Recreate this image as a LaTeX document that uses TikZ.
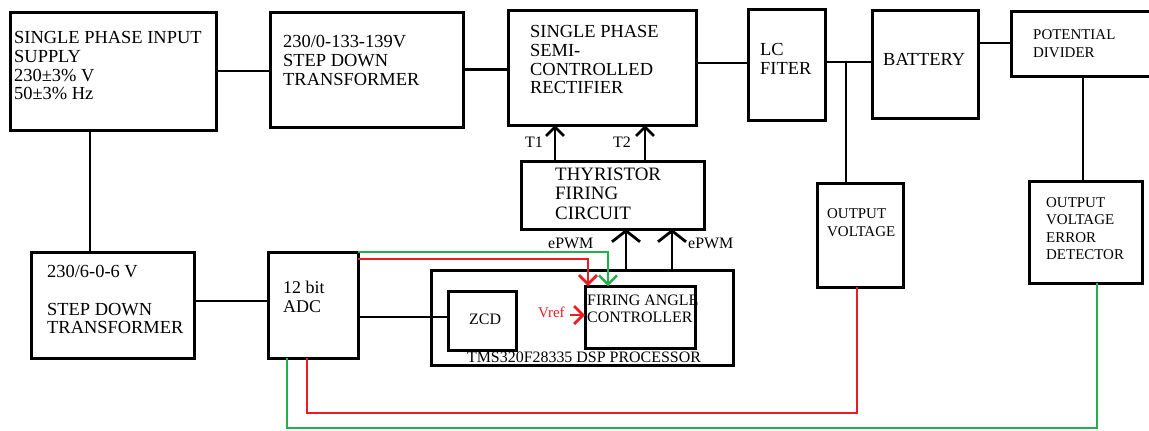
\documentclass[tikz,border=0pt]{standalone}
\usepackage{fontspec}
\setmainfont{Liberation Serif}
\usetikzlibrary{arrows.meta}
\definecolor{pred}{RGB}{237,28,36}
\definecolor{pgreen}{RGB}{34,177,76}
\begin{document}
\begin{tikzpicture}[x=1bp,y=-1bp,
  box/.style={draw,line width=3bp,inner sep=0pt,outer sep=0pt,anchor=north west},
  wire/.style={line width=2.8bp},
  rline/.style={draw=pred,line width=2.8bp},
  gline/.style={draw=pgreen,line width=2.4bp},
  arrS/.style={-{Straight Barb[length=9bp,width=18bp]}},
  arrL/.style={-{Straight Barb[length=11bp,width=28bp]}},
  big/.style={font=\fontsize{18.5}{19}\selectfont,align=left,inner sep=0pt,anchor=north west},
  mid/.style={font=\fontsize{16}{17}\selectfont,align=left,inner sep=0pt},
  sml/.style={font=\fontsize{15}{18}\selectfont,align=left,inner sep=0pt,anchor=north west}
]
\useasboundingbox[fill=white] (0,0) rectangle (1149,430);

% boxes
\node[box,minimum width=206bp,minimum height=118bp] (sup) at (10,12) {};
\node[box,minimum width=193bp,minimum height=115bp] (tf1) at (270,12) {};
\node[box,minimum width=188bp,minimum height=115bp] (rec) at (508,10) {};
\node[box,minimum width=77bp,minimum height=111bp] (lc) at (748,9) {};
\node[box,minimum width=106bp,minimum height=108bp] (bat) at (872,10) {};
\node[box,minimum width=141bp,minimum height=65bp] (pd) at (1011,11) {};
\node[box,minimum width=183bp,minimum height=68bp] (thy) at (521,161) {};
\node[box,minimum width=86bp,minimum height=104bp] (ov) at (817,183) {};
\node[box,minimum width=113bp,minimum height=102bp] (ed) at (1029,181) {};
\node[box,minimum width=163bp,minimum height=106bp] (tf2) at (31,252) {};
\node[box,minimum width=90bp,minimum height=106bp] (adc) at (268,252) {};
\node[box,minimum width=302bp,minimum height=95bp] (dsp) at (431,270) {};
\node[box,minimum width=68bp,minimum height=59bp] (zcd) at (448,291) {};

% texts
\node[big] (tsup) at (14,29.7) {\strut SINGLE PHASE INPUT\\SUPPLY\\230±3\% V\\50±3\% Hz};
\node[big] (ttf1) at (283,33.7) {\strut 230/0-133-139V\\STEP DOWN\\TRANSFORMER};
\node[big] (trec) at (530,23.7) {\strut SINGLE PHASE\\SEMI-\\CONTROLLED\\RECTIFIER};
\node[big] (tlc) at (760,41.7) {\strut LC\\FITER};
\node[big,anchor=base west] (tbat) at (883,65) {BATTERY};
\node[sml] (tpd) at (1033,26.4) {\strut POTENTIAL\\DIVIDER};
\node[big,font=\fontsize{19}{19.5}\selectfont] (tthy) at (555,166.4) {\strut THYRISTOR\\FIRING\\CIRCUIT};
\node[mid,anchor=base west] (tt1) at (525,147) {T1};
\node[mid,anchor=base west] (tt2) at (613,147) {T2};
\node[mid,anchor=base west] (tpw1) at (548,248) {ePWM};
\node[mid,anchor=base west] (tpw2) at (688,248) {ePWM};
\node[sml] (tov) at (827,205.4) {\strut OUTPUT\\VOLTAGE};
\node[sml,font=\fontsize{15}{17.5}\selectfont] (ted) at (1046,194.75) {\strut OUTPUT\\VOLTAGE\\ERROR\\DETECTOR};
\node[big] (ttf2) at (47,263.7) {\strut 230/6-0-6 V\\\strut\\STEP DOWN\\TRANSFORMER};
\node[big,font=\fontsize{18}{19}\selectfont] (tadc) at (283,279.7) {\strut 12 bit\\ADC};
\node[mid,anchor=base west] (tzcd) at (469,324) {ZCD};
\node[mid,anchor=north west,font=\fontsize{16}{17}\selectfont] (tfac) at (587,293.1) {\strut FIRING ANGLE\\CONTROLLER};
\node[mid,anchor=base west,font=\fontsize{15}{17}\selectfont,text=pred] (vref) at (538,317) {Vref};
\node[mid,anchor=base] (tdsp) at (584,362.5) {TMS320F28335 DSP PROCESSOR};

% firing angle controller box drawn over its text
\node[box,minimum width=110bp,minimum height=62bp] (fac) at (585,286) {};

% helper coordinates
\coordinate (y63) at (0,63);
\coordinate (y62) at (0,62);
\coordinate (y43) at (0,43);
\coordinate (x846) at (846,0);
\coordinate (x1083) at (1083,0);
\coordinate (x90) at (90,0);
\coordinate (y301) at (0,301);
\coordinate (y317) at (0,317);
\coordinate (x555) at (555,0);
\coordinate (x645) at (645,0);
\coordinate (x626) at (626,0);
\coordinate (x672) at (672,0);
\coordinate (xg) at (608,0);
\coordinate (xr) at (588,0);
\coordinate (yr) at (0,259);
\coordinate (yv) at (0,315);
\coordinate (xv) at (570,0);
\coordinate (xrb) at (307,0);
\coordinate (yrb) at (0,413);
\coordinate (xo) at (857,0);
\coordinate (xgb) at (287,0);
\coordinate (ygb) at (0,428);
\coordinate (xe) at (1097,0);

% black connectors
\draw[wire] (sup.east) -- (tf1.west |- sup.east);
\draw[wire] (tf1.east) -- (rec.west |- tf1.east);
\draw[wire] (rec.east |- y63) -- (lc.west |- y63);
\draw[wire] (lc.east |- y62) -- (bat.west |- y62);
\draw[wire] (x846 |- y62) -- (x846 |- ov.north);
\draw[wire] (bat.east |- y43) -- (pd.west |- y43);
\draw[wire] (x1083 |- pd.south) -- (x1083 |- ed.north);
\draw[wire] (x90 |- sup.south) -- (x90 |- tf2.north);
\draw[wire] (tf2.east |- y301) -- (adc.west |- y301);
\draw[wire] (adc.east |- y317) -- (zcd.west |- y317);
\draw[wire,arrS] (x555 |- thy.north) -- (x555 |- rec.south);
\draw[wire,arrS] (x645 |- thy.north) -- (x645 |- rec.south);
\draw[wire,arrL] (x626 |- dsp.north) -- (x626 |- thy.south);
\draw[wire,arrL] (x672 |- dsp.north) -- (x672 |- thy.south);

% coloured connectors
\draw[gline,arrS] (adc.north east) -- (xg |- adc.north east) -- (xg |- fac.north);
\draw[rline,arrS] (adc.east |- yr) -- (xr |- yr) -- (xr |- fac.north);
\draw[rline,arrS] (xv |- yv) -- (fac.west |- yv);
\draw[rline] (xrb |- adc.south) -- (xrb |- yrb) -- (xo |- yrb) -- (xo |- ov.south);
\draw[gline] (xgb |- adc.south) -- (xgb |- ygb) -- (xe |- ygb) -- (xe |- ed.south);
\end{tikzpicture}
\end{document}
